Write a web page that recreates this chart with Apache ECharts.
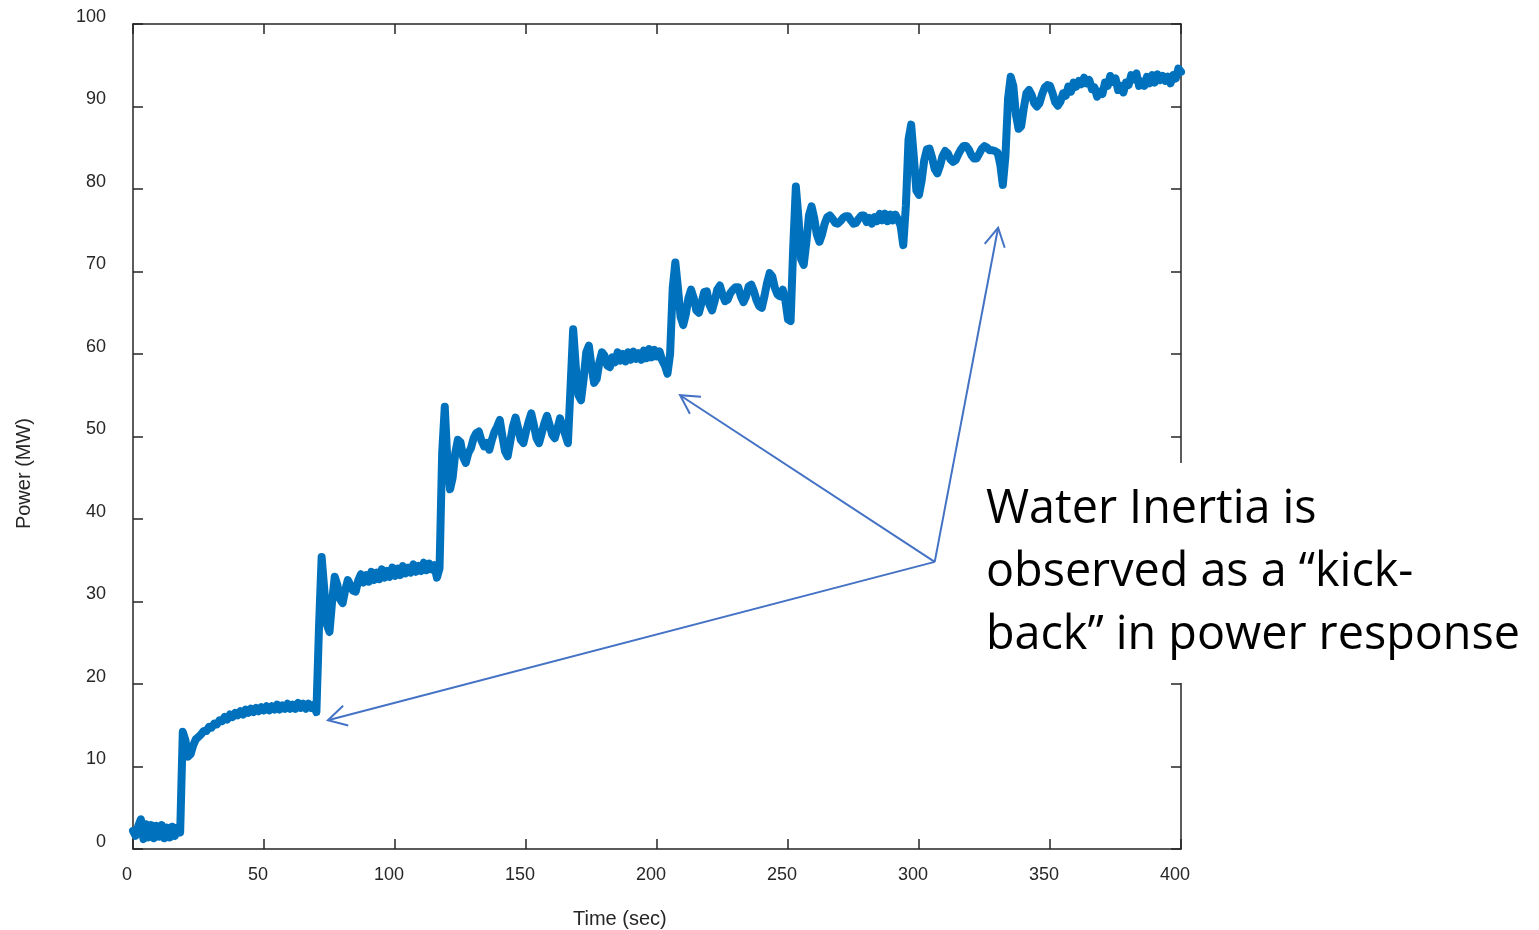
<!DOCTYPE html>
<html>
<head>
<meta charset="utf-8">
<title>Power step response</title>
<script src="https://cdn.jsdelivr.net/npm/echarts@6/dist/echarts.min.js"></script>
<style>
html, body { margin: 0; padding: 0; background: #fff; }
#echart1 { width: 1539px; height: 930px; }
</style>
</head>
<body>
<div id="echart1"></div>
<script>
// x ticks / y ticks
var timeTicks = [0, 50, 100, 150, 200, 250, 300, 350, 400];
var powerTicks = [0, 10, 20, 30, 40, 50, 60, 70, 80, 90, 100];

// one sample per second, t = 0 .. 400 s
var powerMW = [
    2.2, 1.6, 2.8, 3.6, 1.2, 3.0, 1.4, 2.9, 1.3, 2.8,        // 0
    1.5, 2.9, 1.3, 2.6, 1.4, 2.7, 1.6, 2.6, 2.0, 14.2,       // 10
    13.2, 11.2, 11.5, 12.6, 13.3, 13.6, 13.9, 14.3, 14.3, 14.8, // 20
    14.7, 15.2, 15.1, 15.6, 15.5, 16.0, 15.7, 16.3, 16.0, 16.5, // 30
    16.2, 16.7, 16.3, 16.9, 16.5, 17.0, 16.6, 17.1, 16.7, 17.2, // 40
    16.8, 17.3, 16.8, 17.3, 16.9, 17.5, 16.9, 17.4, 17.0, 17.6, // 50
    17.0, 17.5, 17.0, 17.7, 17.1, 17.6, 17.0, 17.6, 17.1, 17.5, // 60
    16.6, 27.0, 35.4, 31.5, 27.2, 26.3, 30.0, 33.0, 32.0, 30.3, // 70
    29.8, 31.4, 32.6, 32.0, 31.3, 31.2, 32.6, 33.3, 32.3, 33.2, // 80
    32.4, 33.6, 32.6, 33.5, 32.7, 33.9, 32.9, 33.7, 33.0, 34.1, // 90
    33.1, 34.0, 33.2, 34.3, 33.4, 34.1, 33.5, 34.5, 33.6, 34.3, // 100
    33.7, 34.7, 33.8, 34.6, 33.9, 34.4, 32.9, 34.0, 48.0, 53.6, // 110
    47.0, 43.6, 45.0, 48.0, 49.6, 49.3, 47.5, 46.8, 48.0, 48.6, // 120
    49.8, 50.4, 50.6, 49.5, 48.8, 49.2, 48.4, 49.6, 50.6, 51.2, // 130
    52.0, 50.0, 48.2, 47.6, 49.4, 51.2, 52.3, 51.0, 49.6, 49.2, // 140
    50.6, 51.8, 52.8, 51.4, 49.8, 49.2, 50.4, 51.6, 52.5, 51.4, // 150
    50.2, 49.8, 51.0, 52.2, 51.2, 50.2, 49.2, 56.0, 63.0, 58.5, // 160
    55.0, 54.4, 57.0, 60.2, 61.0, 58.5, 56.5, 57.0, 59.0, 60.2, // 170
    59.8, 58.6, 58.4, 59.6, 59.0, 60.2, 59.2, 60.0, 59.1, 60.2, // 180
    59.3, 60.3, 59.4, 60.1, 59.3, 60.4, 59.5, 60.6, 59.6, 60.5, // 190
    59.7, 60.3, 59.2, 58.6, 57.6, 60.0, 68.0, 71.1, 68.0, 64.5, // 200
    63.5, 64.8, 66.8, 67.8, 66.8, 65.3, 65.0, 66.2, 67.5, 67.6, // 210
    66.0, 65.3, 66.4, 67.8, 68.3, 67.2, 66.4, 66.6, 67.4, 67.8, // 220
    68.1, 68.1, 67.0, 66.3, 67.0, 68.2, 68.4, 67.6, 66.5, 65.8, // 230
    65.6, 67.0, 68.6, 69.8, 69.4, 68.0, 67.2, 67.0, 67.8, 66.5, // 240
    64.2, 64.0, 73.0, 80.3, 76.5, 71.5, 70.8, 73.5, 76.8, 77.9, // 250
    76.5, 74.5, 73.6, 74.5, 75.8, 76.6, 76.8, 76.4, 75.9, 75.8, // 260
    76.1, 76.5, 76.7, 76.7, 76.2, 75.8, 75.9, 76.4, 76.8, 76.8, // 270
    76.0, 76.5, 75.8, 76.6, 76.1, 77.0, 76.2, 77.0, 76.1, 76.9, // 280
    76.2, 76.9, 76.3, 75.5, 73.2, 78.0, 86.0, 87.8, 84.0, 79.8, // 290
    79.3, 81.0, 83.5, 84.8, 84.9, 83.8, 82.4, 81.9, 82.8, 84.0, // 300
    84.6, 84.3, 83.6, 83.3, 83.5, 84.2, 84.8, 85.2, 85.2, 84.8, // 310
    84.1, 83.7, 83.7, 84.3, 84.9, 85.2, 85.0, 84.7, 84.7, 84.6, // 320
    84.4, 83.0, 80.5, 84.0, 91.0, 93.6, 92.5, 89.0, 87.3, 87.6, // 330
    89.8, 91.6, 92.0, 91.4, 90.4, 90.0, 90.4, 91.5, 92.3, 92.6, // 340
    92.5, 91.6, 90.5, 90.1, 90.6, 91.6, 91.3, 92.4, 91.8, 92.9, // 350
    92.4, 93.1, 92.7, 93.5, 92.8, 93.2, 92.1, 92.3, 91.2, 91.8, // 360
    91.5, 92.9, 92.5, 93.7, 93.0, 93.4, 92.0, 92.5, 91.7, 92.9, // 370
    92.6, 93.8, 93.3, 94.0, 92.5, 93.0, 92.5, 93.6, 92.8, 93.8, // 380
    92.9, 93.9, 93.2, 93.7, 93.1, 93.6, 92.8, 93.8, 93.4, 94.6, // 390
    94.2                                                        // 400
];

// "kick-back" arrows: [from, to] in (sec, MW)
var arrowFrom = [306, 34.8];
var arrowTips = [[74.4, 15.6], [208.8, 55.0], [330.2, 75.3]];

var noteText = 'Water Inertia is\nobserved as a \u201ckick-\nback\u201d in power response';

var seriesData = powerMW.map(function (v, i) { return [i, v]; });

var axisColor = '#262626';
var arrowColor = '#4472C4';

function axisX(pos, showLabel) {
    return {
        type: 'value', position: pos, min: 0, max: 400, interval: 50,
        axisLine: { show: true, onZero: false, lineStyle: { color: axisColor, width: 1.5 } },
        axisTick: { show: true, inside: true, length: 10, lineStyle: { color: axisColor, width: 1.5 } },
        splitLine: { show: false },
        axisLabel: {
            show: showLabel, color: axisColor, fontSize: 18, fontFamily: 'Liberation Sans',
            margin: 17, padding: [0, 12, 0, 0]
        }
    };
}
function axisY(pos, showLabel) {
    return {
        type: 'value', position: pos, min: 0, max: 100, interval: 10,
        axisLine: { show: true, onZero: false, lineStyle: { color: axisColor, width: 1.5 } },
        axisTick: { show: true, inside: true, length: 10, lineStyle: { color: axisColor, width: 1.5 } },
        splitLine: { show: false },
        axisLabel: {
            show: showLabel, color: axisColor, fontSize: 18, fontFamily: 'Liberation Sans',
            margin: 27, verticalAlign: 'bottom', lineHeight: 14
        }
    };
}

var myChart = echarts.init(document.getElementById('echart1'));
var option = {
    backgroundColor: '#fff',
    animation: false,
    grid: { left: 133, top: 24, right: 358, bottom: 81 },
    xAxis: [axisX('bottom', true), axisX('top', false)],
    yAxis: [axisY('left', true), axisY('right', false)],
    series: [{
        type: 'line',
        xAxisIndex: 0,
        yAxisIndex: 0,
        showSymbol: false,
        symbol: 'none',
        lineStyle: { color: '#0072BD', width: 8, cap: 'round', join: 'round' },
        data: seriesData
    }],
    graphic: [
        {
            id: 'ylabel', type: 'text', left: 14, top: 418, rotation: Math.PI / 2,
            style: { text: 'Power (MW)', fill: axisColor, font: '20px "Liberation Sans"' }
        },
        {
            id: 'xlabel', type: 'text', left: 573, top: 909,
            style: { text: 'Time (sec)', fill: axisColor, font: '20px "Liberation Sans"' }
        },
        {
            id: 'noteBg', type: 'rect', z: 100,
            shape: { x: 975, y: 463, width: 564, height: 220 },
            style: { fill: '#fff' }
        },
        {
            id: 'note', type: 'text', z: 101, x: 986, y: 478,
            style: { text: noteText, fill: '#000', font: '46.7px "Open Sans"', lineHeight: 63 }
        }
    ]
};
myChart.setOption(option);

// arrows, placed through the chart's own scales
function drawArrows() {
    var from = myChart.convertToPixel({ gridIndex: 0 }, arrowFrom);
    var els = [];
    var armLen = 21, half = 29 * Math.PI / 180;
    arrowTips.forEach(function (tip, i) {
        var p = myChart.convertToPixel({ gridIndex: 0 }, tip);
        var a = Math.atan2(p[1] - from[1], p[0] - from[0]);
        var arm1 = [p[0] - armLen * Math.cos(a - half), p[1] - armLen * Math.sin(a - half)];
        var arm2 = [p[0] - armLen * Math.cos(a + half), p[1] - armLen * Math.sin(a + half)];
        els.push({
            id: 'shaft' + i, type: 'polyline', z: 50,
            shape: { points: [from, p] },
            style: { stroke: arrowColor, lineWidth: 2, fill: null }
        });
        els.push({
            id: 'head' + i, type: 'polyline', z: 50,
            shape: { points: [arm1, p, arm2] },
            style: { stroke: arrowColor, lineWidth: 2, fill: null, lineJoin: 'miter' }
        });
    });
    myChart.setOption({ graphic: els });
}
drawArrows();

window.addEventListener('resize', function () {
    myChart.resize();
    drawArrows();
});
</script>
</body>
</html>
